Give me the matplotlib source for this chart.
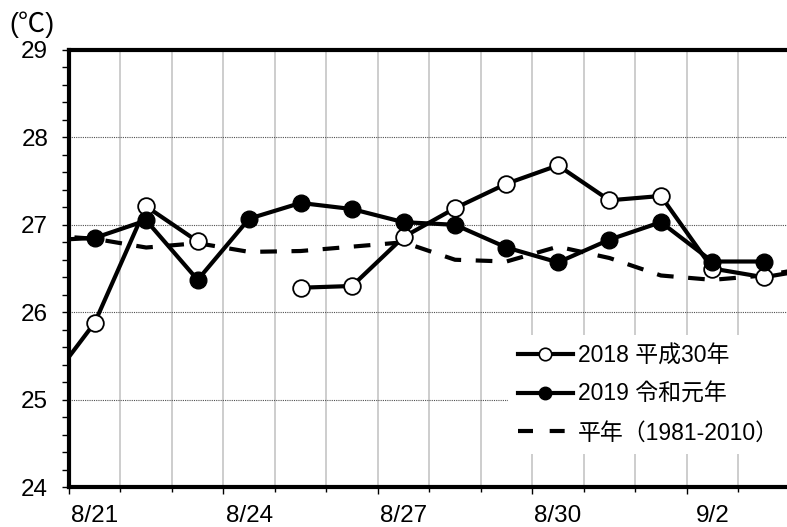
import matplotlib

matplotlib.use("Agg")

import matplotlib.pyplot as plt
import numpy as np
from matplotlib.lines import Line2D
from matplotlib.ticker import MultipleLocator

plt.rcParams["font.family"] = ["Liberation Sans", "Noto Sans CJK JP"]

# days shown on the category axis (8/20 and 9/4 sit just outside the frame)
DAYS = ["8/20", "8/21", "8/22", "8/23", "8/24", "8/25", "8/26", "8/27",
        "8/28", "8/29", "8/30", "8/31", "9/1", "9/2", "9/3", "9/4"]
LABEL_DAYS = ["8/21", "8/24", "8/27", "8/30", "9/2"]

nan = float("nan")
T2018 = [25.1, 25.88, 27.21, 26.81, nan, 26.28, 26.30, 26.86,
         27.19, 27.47, 27.68, 27.28, 27.33, 26.50, 26.40, 26.50]
T2019 = [26.82, 26.85, 27.05, 26.37, 27.07, 27.25, 27.18, 27.03,
         27.0, 26.74, 26.57, 26.83, 27.03, 26.58, 26.58, nan]
NORMAL = [26.88, 26.84, 26.74, 26.79, 26.69, 26.70, 26.75, 26.80,
          26.60, 26.58, 26.75, 26.62, 26.42, 26.37, 26.42, 26.52]

LABELS = ["2018 平成30年", "2019 令和元年", "平年（1981-2010）"]


def main() -> None:
    x = np.arange(len(DAYS)) - 1  # 8/21 -> 0

    fig = plt.figure(figsize=(7.87, 5.27), dpi=100)
    ax = fig.add_axes([69 / 787, 40 / 527, 1 - 69 / 787, 437 / 527])

    ax.plot(x, NORMAL, color="black", lw=3, dashes=(4, 3.5), zorder=3)
    ax.plot(x, T2018, color="black", lw=3, marker="o", ms=12,
            mfc="white", mec="black", mew=1.3, zorder=4)
    ax.plot(x, T2019, color="black", lw=3, marker="o", ms=12,
            mfc="black", mec="black", zorder=5)

    ax.set_xlim(-0.5, 13.45)
    ax.set_ylim(24, 29)

    # x ticks at day boundaries, labels centred on the days
    ax.xaxis.set_major_locator(MultipleLocator(3, offset=-0.5))
    ax.xaxis.set_minor_locator(MultipleLocator(1, offset=-0.5))
    ax.tick_params(axis="x", which="major", length=5, width=1, labelbottom=False)
    ax.tick_params(axis="x", which="minor", length=3.5, width=1)
    for lab in LABEL_DAYS:
        ax.annotate(lab, xy=(DAYS.index(lab) - 1, 0),
                    xycoords=("data", "axes fraction"),
                    xytext=(0, -21), textcoords="offset points",
                    ha="center", va="center", fontsize=17.5)

    ax.yaxis.set_major_locator(MultipleLocator(1))
    ax.yaxis.set_minor_locator(MultipleLocator(0.2))
    ax.tick_params(axis="y", which="both", length=5, width=1, pad=10,
                   labelsize=17.5)

    ax.grid(True, axis="x", which="both", color="#c0c0c0", lw=1.1)
    ax.grid(True, axis="y", which="major", color="#505050", lw=0.8,
            linestyle=(0, (1, 1)))
    ax.set_axisbelow(True)

    for side in ("left", "bottom", "top"):
        ax.spines[side].set_linewidth(3)
    ax.spines["right"].set_visible(False)

    fig.text(32 / 787, 1 - 25 / 527, "(℃)", ha="center", va="center",
             fontsize=19.5)

    handles = [
        Line2D([], [], color="black", lw=3, marker="o", ms=9,
               mfc="white", mec="black", mew=1.2),
        Line2D([], [], color="black", lw=3, marker="o", ms=9,
               mfc="black", mec="black"),
        Line2D([], [], color="black", lw=3, dashes=(3.6, 4)),
    ]
    leg = ax.legend(handles, LABELS, loc="center", bbox_to_anchor=(0.807, 0.212),
                    fontsize=16.5, frameon=True, fancybox=False, framealpha=1,
                    facecolor="white", edgecolor="none", handlelength=2.4,
                    handletextpad=0.25, labelspacing=0.68, borderpad=0.4)
    leg.set_zorder(10)

    fig.savefig("out.png", dpi=100)
    plt.close(fig)


if __name__ == "__main__":
    main()
